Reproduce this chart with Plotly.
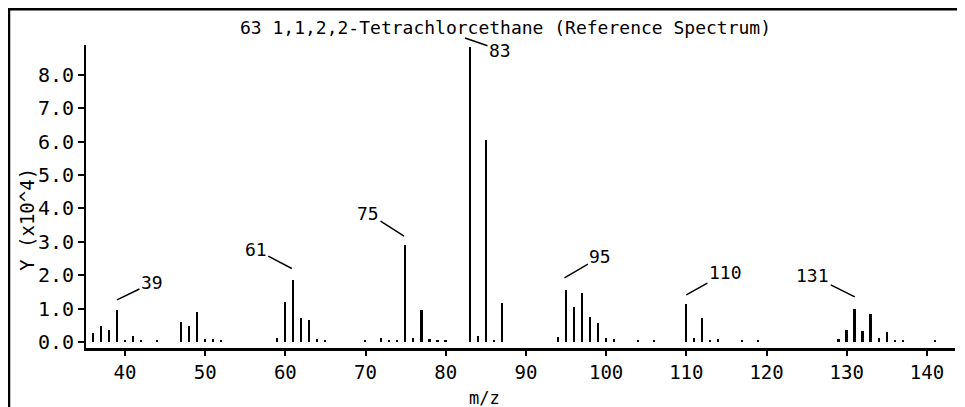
import plotly.graph_objects as go

# m/z values and intensities (x10^4)
mz = [36, 37, 38, 39, 40, 41, 42, 44,
      47, 48, 49, 50, 51, 52,
      59, 60, 61, 62, 63, 64, 65,
      70, 72, 73, 74, 75, 76, 77, 78, 79, 80,
      83, 84, 85, 86, 87,
      94, 95, 96, 97, 98, 99, 100, 101, 104,
      106, 110, 111, 112, 113, 114, 117, 119,
      129, 130, 131, 132, 133, 134, 135, 136, 137, 141]
intensity = [0.27, 0.48, 0.36, 0.96, 0.05, 0.18, 0.06, 0.04,
             0.60, 0.48, 0.90, 0.10, 0.08, 0.05,
             0.12, 1.20, 1.86, 0.72, 0.66, 0.10, 0.04,
             0.05, 0.12, 0.07, 0.07, 2.90, 0.13, 0.96, 0.08, 0.06, 0.04,
             8.83, 0.18, 6.05, 0.06, 1.17,
             0.15, 1.56, 1.05, 1.46, 0.75, 0.57, 0.12, 0.08, 0.04,
             0.04, 1.14, 0.12, 0.72, 0.07, 0.10, 0.04, 0.03,
             0.10, 0.36, 1.00, 0.33, 0.84, 0.12, 0.30, 0.05, 0.04, 0.04]

# labelled peaks
label_mz = [39, 61, 75, 83, 95, 110, 131]
label_text = ["39", "61", "75", "83", "95", "110", "131"]

x_ticks = [40, 50, 60, 70, 80, 90, 100, 110, 120, 130, 140]
y_ticks = [0, 1, 2, 3, 4, 5, 6, 7, 8]

title_text = "63 1,1,2,2-Tetrachlorcethane (Reference Spectrum)"
x_title = "m/z"
y_title = "Y (x10^4)"

FONT = "DejaVu Sans Mono"

fig = go.Figure()
fig.add_trace(go.Bar(x=mz, y=intensity, width=0.2,
                     marker=dict(color="black", line=dict(width=0)),
                     showlegend=False, hoverinfo="x+y"))

# annotation geometry: (tip x, tip y, yref, ax, ay)
ann_geom = {
    39: (39.0, 1.26, "y", 35, -17),
    61: (60.8, 2.20, "y", -36, -19),
    75: (74.8, 3.17, "y", -36, -23),
    83: (82.4, 1.023, "paper", 35, 12),
    95: (94.8, 1.92, "y", 36, -21),
    110: (110.0, 1.41, "y", 39, -22),
    131: (131.0, 1.35, "y", -42, -21),
}
annotations = []
for m, t in zip(label_mz, label_text):
    tx, ty, yr, ax, ay = ann_geom[m]
    annotations.append(dict(x=tx, y=ty, xref="x", yref=yr, text=t,
                            showarrow=True, arrowhead=0, arrowwidth=1.5,
                            arrowcolor="black", ax=ax, ay=ay, standoff=0,
                            font=dict(family=FONT, size=18, color="black")))

annotations.append(dict(text=title_text, xref="paper", yref="paper",
                        x=0.483, y=1.0, yshift=18, yanchor="middle",
                        showarrow=False,
                        font=dict(family=FONT, size=18, color="black")))
annotations.append(dict(text=y_title, xref="paper", yref="paper",
                        x=-0.068, y=0.426, textangle=-90,
                        xanchor="center", yanchor="middle", showarrow=False,
                        font=dict(family=FONT, size=19, color="black")))
annotations.append(dict(text=x_title, xref="paper", yref="paper",
                        x=0.459, y=-0.165,
                        xanchor="center", yanchor="middle", showarrow=False,
                        font=dict(family=FONT, size=17, color="black")))

# page body has an 8px margin, so the figure is sized to the visible area
fig.update_layout(
    width=957, height=399,
    margin=dict(l=78, r=10, t=37, b=59),
    paper_bgcolor="white", plot_bgcolor="white",
    annotations=annotations,
    bargap=0,
    xaxis=dict(range=[35.14, 143.5], tickvals=x_ticks, automargin=False,
               ticks="outside", ticklen=5, tickwidth=1.5, tickcolor="black",
               showline=True, linecolor="black", linewidth=2.5,
               showgrid=False, zeroline=False,
               tickfont=dict(family=FONT, size=19, color="black")),
    yaxis=dict(range=[-0.18, 8.89], tickvals=y_ticks, tickformat=".1f",
               automargin=False,
               ticks="outside", ticklen=6, tickwidth=1.5, tickcolor="black",
               showline=True, linecolor="black", linewidth=2,
               showgrid=False, zeroline=False,
               tickfont=dict(family=FONT, size=20, color="black")),
    shapes=[
        dict(type="line", xref="paper", yref="paper", x0=-0.09, x1=1.2,
             y0=1.119, y1=1.119, line=dict(color="black", width=3)),
        dict(type="line", xref="paper", yref="paper", x0=-0.0886, x1=-0.0886,
             y0=-0.3, y1=1.122, line=dict(color="black", width=2.5)),
    ],
)

fig.write_html("out.html")
